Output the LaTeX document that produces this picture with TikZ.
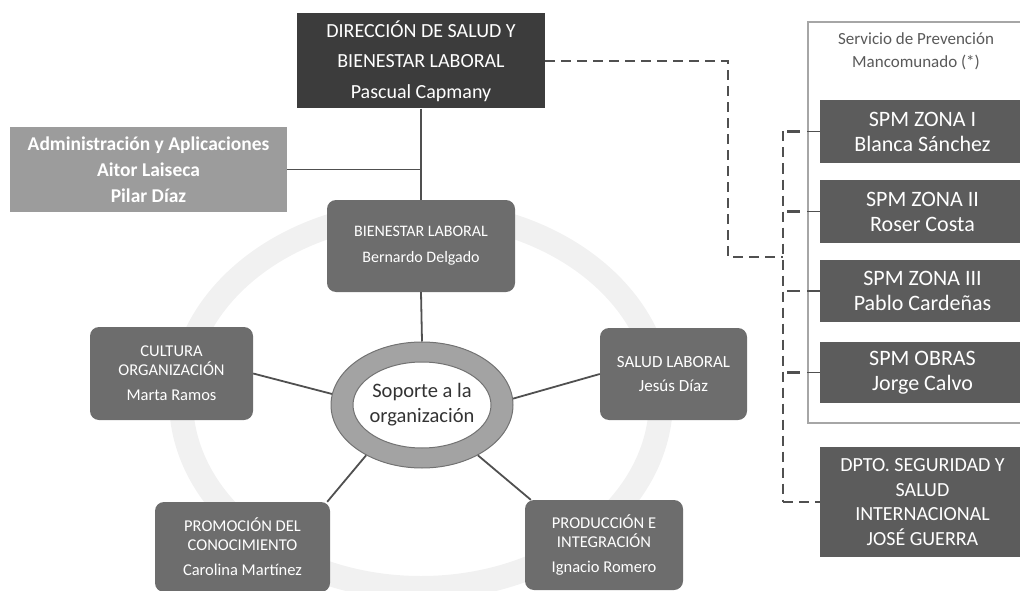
\documentclass[tikz,border=0pt]{standalone}
\usepackage{fontspec}
\setmainfont{Carlito}
\usepackage{xcolor}
\usetikzlibrary{positioning,calc,shapes.geometric}

\definecolor{dirgris}{HTML}{3C3C3C}
\definecolor{admgris}{HTML}{9C9C9C}
\definecolor{areagris}{HTML}{6D6D6D}
\definecolor{spmgris}{HTML}{5C5C5C}
\definecolor{anillo}{HTML}{A3A3A3}
\definecolor{linea}{HTML}{505050}
\definecolor{fondo}{HTML}{F1F1F1}

\begin{document}
\begin{tikzpicture}[x=1pt,y=-1pt,
   caja/.style={fill=#1, text=white, align=center, inner sep=2pt},
   area/.style={caja=areagris, rounded corners=9pt},
   spm/.style={caja=spmgris, minimum width=205pt, font=\fontsize{22}{25}\selectfont},
   union/.style={draw=linea, line width=1.8pt},
   discont/.style={draw=linea, line width=2.4pt, dash pattern=on 10pt off 6pt}]
   \useasboundingbox (0,0) rectangle (1020,591);
   % fondo
   \coordinate (mid) at (421,400);
   \draw[fondo, line width=24pt] (mid) ellipse (240 and 188);
   %
   \node[caja=dirgris, minimum width=248pt, minimum height=95pt,
         font=\fontsize{20}{30.5}\selectfont] (dir) at (421,61)
         {DIRECCIÓN DE SALUD Y\\BIENESTAR LABORAL\\Pascual Capmany};
   \node[caja=admgris, minimum width=277pt, minimum height=85pt,
         font=\bfseries\fontsize{19.5}{26}\selectfont] (adm) at (148.5,169.5)
         {Administración y Aplicaciones\\Aitor Laiseca\\Pilar Díaz};
   \node[area, minimum width=188pt, minimum height=92pt,
         font=\fontsize{16}{26}\selectfont] (bien) at (421,246)
         {BIENESTAR LABORAL\\Bernardo Delgado};
   %
   \node[ellipse, fill=anillo, draw=anillo!70!black, line width=1pt,
         minimum width=182pt, minimum height=126pt] (sop) at (422,405) {};
   \draw[fill=white, draw=anillo!70!black, line width=1pt] (sop.center) ellipse (69 and 43);
   \node[align=center, text=black!80, font=\fontsize{20.5}{25}\selectfont] (soptxt) at (sop) {Soporte a la\\organización};
   %
   \node[area, minimum width=163pt, minimum height=93pt,
         font=\fontsize{16.5}{19}\selectfont] (cult) at (171.5,373.5)
         {CULTURA\\ORGANIZACIÓN\\[6pt]Marta Ramos};
   \node[area, minimum width=147pt, minimum height=92pt,
         font=\fontsize{17}{24}\selectfont] (salud) at (673.5,374)
         {SALUD LABORAL\\Jesús Díaz};
   \node[area, minimum width=175pt, minimum height=90pt,
         font=\fontsize{16.5}{19}\selectfont] (promo) at (242.5,547)
         {PROMOCIÓN DEL\\CONOCIMIENTO\\[6pt]Carolina Martínez};
   \node[area, minimum width=158pt, minimum height=90pt,
         font=\fontsize{16.5}{19}\selectfont] (prod) at (604,545)
         {PRODUCCIÓN E\\INTEGRACIÓN\\[6pt]Ignacio Romero};
   %
   \draw[union] (dir.south) -- (bien.north);
   \draw[union] (adm.east) -- (adm.east -| dir.south);
   \draw[union] (bien.south) -- (sop.north);
   \draw[union] (cult.east) -- (sop.173);
   \draw[union] (salud.west) -- (sop.4);
   \draw[union] ([xshift=-3pt]promo.north east) -- (sop.222);
   \draw[union] ([xshift=6pt]prod.north west) -- (sop.318);
   %
   \node[draw=gray!70, line width=1.3pt, minimum width=222pt, minimum height=401pt] (marco) at (919,222.5) {};
   \node[align=center, text=black!65, font=\fontsize{17}{23}\selectfont] (serv) at (916,51)
         {Servicio de Prevención\\Mancomunado (*)};
   \node[spm, minimum height=63pt] (z1) at (922.5,131.5) {SPM ZONA I\\Blanca Sánchez};
   \node[spm, minimum height=63pt] (z2) at (922.5,211.5) {SPM ZONA II\\Roser Costa};
   \node[spm, minimum height=62pt] (z3) at (922.5,291) {SPM ZONA III\\Pablo Cardeñas};
   \node[spm, minimum height=61pt] (obras) at (922.5,372.5) {SPM OBRAS\\Jorge Calvo};
   \node[caja=spmgris, minimum width=205pt, minimum height=110pt,
         font=\fontsize{20}{24.5}\selectfont] (dpto) at (922.5,502)
         {DPTO. SEGURIDAD Y\\SALUD\\INTERNACIONAL\\JOSÉ GUERRA};
   %
   \coordinate (tr) at (783,0);
   \coordinate (codo) at (728,257);
   \draw[discont] (dir.east) -| (codo) -- (codo -| tr);
   \draw[discont] (z1.west -| tr) -- (dpto.west -| tr);
   \foreach \n in {z1,z2,z3,obras} {
     \draw[draw=linea, line width=2.4pt] ([xshift=4pt]\n.west -| tr) -- ([xshift=-7pt]\n.west -| marco.west);
     \draw[draw=linea, line width=1.2pt] (\n.west -| marco.west) -- (\n.west);
   }
   \draw[discont] (dpto.west -| tr) -- (dpto.west);
\end{tikzpicture}
\end{document}
